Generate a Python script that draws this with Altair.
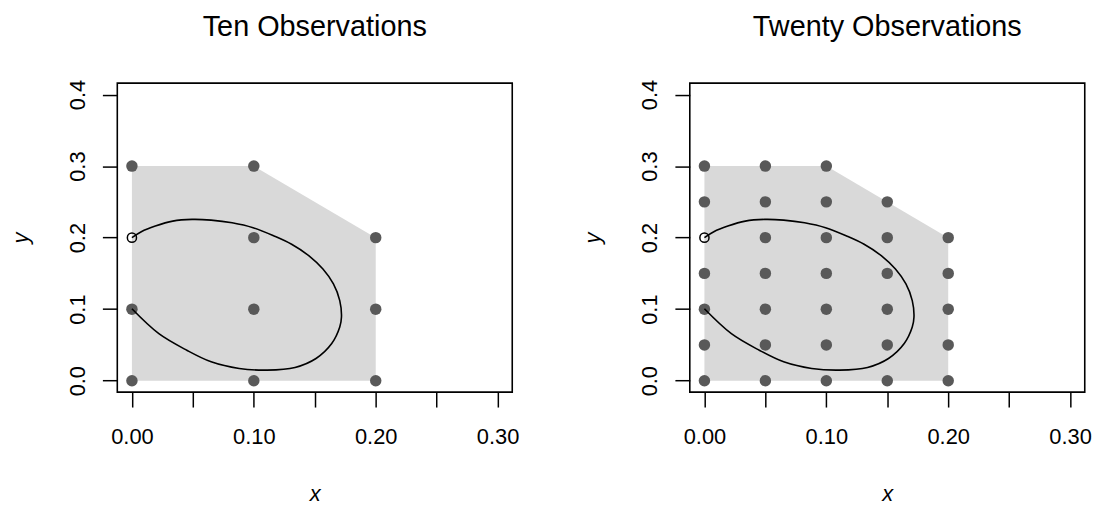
import altair as alt
import pandas as pd

# ---------------- data ----------------
titles = ["Ten Observations", "Twenty Observations"]

ten_x = [0.0, 0.1, 0.2, 0.0, 0.1, 0.2, 0.1, 0.2, 0.0, 0.1]
ten_y = [0.0, 0.0, 0.0, 0.1, 0.1, 0.1, 0.2, 0.2, 0.3, 0.3]

twenty_x = [0.0, 0.0, 0.0, 0.0, 0.0, 0.0,
            0.05, 0.05, 0.05, 0.05, 0.05, 0.05, 0.05,
            0.1, 0.1, 0.1, 0.1, 0.1, 0.1, 0.1,
            0.15, 0.15, 0.15, 0.15, 0.15, 0.15,
            0.2, 0.2, 0.2, 0.2, 0.2]
twenty_y = [0.0, 0.05, 0.1, 0.15, 0.25, 0.3,
            0.0, 0.05, 0.1, 0.15, 0.2, 0.25, 0.3,
            0.0, 0.05, 0.1, 0.15, 0.2, 0.25, 0.3,
            0.0, 0.05, 0.1, 0.15, 0.2, 0.25,
            0.0, 0.05, 0.1, 0.15, 0.2]

hull_x = [0.0, 0.1, 0.2]
hull_top = [0.3, 0.3, 0.2]
hull_bottom = [0.0, 0.0, 0.0]

open_x = [0.0]
open_y = [0.2]

curve_x = [0.0, 0.0221, 0.045, 0.065, 0.088, 0.1109, 0.1338, 0.151, 0.1639,
           0.1705, 0.1719, 0.1705, 0.1653, 0.1567, 0.1453, 0.131, 0.1166,
           0.0994, 0.0822, 0.065, 0.0493, 0.0335, 0.0192, 0.0077, 0.0]
curve_y = [0.1005, 0.0657, 0.0426, 0.0264, 0.0171, 0.0148, 0.0185, 0.031, 0.0519,
           0.075, 0.0889, 0.112, 0.1352, 0.156, 0.1745, 0.1907, 0.2023,
           0.2139, 0.2208, 0.2245, 0.2255, 0.2231, 0.2162, 0.2083, 0.2]

x_ticks = [0.0, 0.05, 0.1, 0.15, 0.2, 0.25, 0.3]
y_ticks = [0.0, 0.1, 0.2, 0.3, 0.4]

x_domain = [-0.012, 0.312]
y_domain = [-0.016, 0.416]

# ---------------- layout / style ----------------
FONT = "Liberation Sans"
W, H = 397.5, 311
POINT_COLOR = "#595959"
HULL_COLOR = "#d9d9d9"

hull_df = pd.DataFrame({"x": hull_x, "top": hull_top, "bottom": hull_bottom})
curve_df = pd.DataFrame({"x": curve_x, "y": curve_y, "i": list(range(len(curve_x)))})
open_df = pd.DataFrame({"x": open_x, "y": open_y})


def panel(px, py, title, anchor):
    xs = alt.Scale(domain=x_domain, nice=False, zero=False)
    ys = alt.Scale(domain=y_domain, nice=False, zero=False)
    xax = alt.Axis(
        values=x_ticks,
        labelExpr="abs(datum.value*10 - round(datum.value*10)) < 1e-6 ? format(datum.value, '.2f') : ''",
        title="x", domain=False, grid=False,
        tickSize=15, tickWidth=1.5, tickColor="black",
        labelFontSize=22, labelFont=FONT, labelColor="black",
        labelPadding=36.5, labelBaseline="alphabetic", labelAlign="center",
        labelFlush=False, labelOverlap=False,
        titleFontSize=22, titleFont=FONT, titleFontStyle="italic",
        titleFontWeight="normal", titleColor="black",
        titleX=W / 2, titleY=109, titleBaseline="alphabetic", titleAlign="center",
    )
    yax = alt.Axis(
        values=y_ticks, format=".1f",
        title="y", domain=False, grid=False,
        tickSize=15, tickWidth=1.5, tickColor="black",
        labelFontSize=22, labelFont=FONT, labelColor="black",
        labelAngle=270, labelAlign="center", labelBaseline="alphabetic",
        labelPadding=18.5, labelFlush=False, labelOverlap=False,
        titleFontSize=22, titleFont=FONT, titleFontStyle="italic",
        titleFontWeight="normal", titleColor="black",
        titleAngle=270, titleX=-90.5, titleY=H / 2,
        titleBaseline="alphabetic", titleAlign="center",
    )
    pts_df = pd.DataFrame({"x": px, "y": py})

    hull = alt.Chart(hull_df).mark_area(color=HULL_COLOR, opacity=1).encode(
        x=alt.X("x:Q", scale=xs, axis=xax),
        y=alt.Y("top:Q", scale=ys, axis=yax),
        y2="bottom:Q",
    )
    pts = alt.Chart(pts_df).mark_circle(color=POINT_COLOR, size=133, opacity=1).encode(
        x="x:Q", y="y:Q"
    )
    curve = alt.Chart(curve_df).mark_line(
        color="black", strokeWidth=1.6, interpolate="catmull-rom"
    ).encode(x="x:Q", y="y:Q", order="i:Q")
    hollow = alt.Chart(open_df).mark_point(
        shape="circle", filled=False, color="black", size=85, strokeWidth=1.5, opacity=1
    ).encode(x="x:Q", y="y:Q")
    ttl = alt.Chart(pd.DataFrame({"t": [title]})).mark_text(
        fontSize=29, font=FONT, baseline="alphabetic", align="center", color="black"
    ).encode(x=alt.value(W / 2), y=alt.value(-47.5), text="t:N")

    layers = [hull, pts, curve, hollow, ttl]
    if anchor:
        layers.append(
            alt.Chart(pd.DataFrame({"a": [0]})).mark_point(size=1, opacity=0).encode(
                x=alt.value(-107.5), y=alt.value(-72.5)
            )
        )
    return alt.layer(*layers).properties(width=W, height=H)


left = panel(ten_x, ten_y, titles[0], True)
right = panel(twenty_x, twenty_y, titles[1], False)

chart = (
    alt.hconcat(left, right, spacing=178.2, bounds="flush")
    .properties(padding=0)
    .configure(font=FONT, view=alt.ViewConfig(stroke="black", strokeWidth=1.6))
)

chart.save("out.html", embed_options={"renderer": "svg", "actions": False})
